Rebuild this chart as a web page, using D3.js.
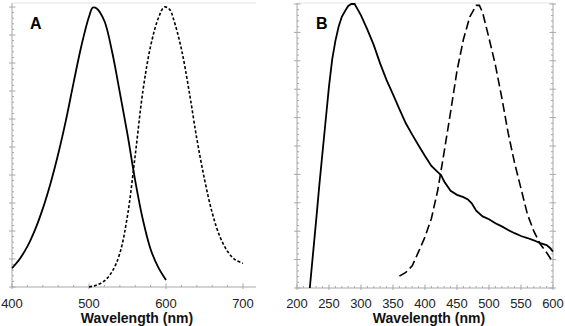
<!DOCTYPE html>
<html>
<head>
<meta charset="utf-8">
<script src="https://d3js.org/d3.v7.min.js"></script>
<style>
  body { margin: 0; background: #fff; }
  text { font-family: "Liberation Sans", Arial, sans-serif; }
</style>
</head>
<body>
<svg width="565" height="326"></svg>
<script>
// panel A: absorption (solid) and emission (dashed)
var aSolidWl = [400, 410, 420, 430, 440, 450, 460, 470, 480, 490, 500, 505, 510, 520, 530, 540, 550, 560, 570, 580, 590, 600];
var aSolidVal = [0.67, 1.0, 1.45, 2.05, 2.8, 3.7, 4.75, 5.95, 7.3, 8.6, 9.65, 9.98, 9.95, 9.5, 8.4, 6.95, 5.45, 3.8, 2.4, 1.35, 0.7, 0.25];
var aDashWl = [500, 510, 520, 530, 540, 550, 560, 570, 580, 590, 598, 605, 610, 620, 630, 640, 650, 660, 670, 680, 690, 700];
var aDashVal = [0, 0.07, 0.22, 0.55, 1.2, 2.55, 4.7, 7.0, 8.6, 9.6, 10, 9.9, 9.55, 8.5, 7.0, 5.3, 3.85, 2.65, 1.8, 1.27, 0.97, 0.85];

// panel B
var bSolidWl = [220, 225, 230, 235, 240, 245, 250, 255, 260, 265, 270, 275, 280, 285, 290, 295, 300, 310, 320, 330, 340, 350, 360, 370, 380, 390, 400, 410, 420, 425, 430, 440, 450, 460, 467, 473, 480, 490, 500, 510, 520, 530, 540, 550, 560, 570, 580, 590, 595, 600];
var bSolidVal = [0, 1.2, 2.4, 3.65, 4.8, 5.95, 7.1, 8.05, 8.7, 9.2, 9.55, 9.75, 9.93, 10, 10, 9.8, 9.6, 9.1, 8.55, 7.9, 7.32, 6.82, 6.3, 5.8, 5.4, 5.02, 4.65, 4.3, 4.08, 3.98, 3.75, 3.42, 3.28, 3.2, 3.12, 2.98, 2.72, 2.52, 2.42, 2.28, 2.17, 2.04, 1.93, 1.83, 1.76, 1.68, 1.58, 1.51, 1.42, 1.28];
var bDashWl = [360, 370, 380, 390, 400, 410, 420, 430, 440, 450, 460, 470, 480, 485, 490, 500, 510, 520, 530, 540, 550, 560, 570, 580, 590, 600];
var bDashVal = [0.42, 0.55, 0.78, 1.28, 1.8, 2.45, 3.45, 4.8, 6.2, 7.65, 8.75, 9.55, 9.95, 9.95, 9.7, 8.8, 7.85, 6.7, 5.45, 4.4, 3.5, 2.6, 2.0, 1.55, 1.25, 0.9];

var aTicks = [400, 500, 600, 700];
var bTicks = [200, 250, 300, 350, 400, 450, 500, 550, 600];

var svg = d3.select("svg");
var axisColor = "#a8a8a8";

function zip(wl, val) {
    return wl.map(function(w, i) { return { wl: w, v: val[i] }; });
}

function drawPanel(opt) {
    var x = d3.scaleLinear().domain(opt.xDomain).range([opt.left, opt.right]);
    var y = d3.scaleLinear().domain([0, 10]).range([opt.bottom, opt.top]);
    var g = svg.append("g");

    // frame
    g.append("line").attr("x1", opt.left).attr("x2", opt.left)
        .attr("y1", opt.bottom).attr("y2", opt.frameTop)
        .attr("stroke", axisColor);
    g.append("line").attr("x1", opt.left).attr("x2", opt.frameRight)
        .attr("y1", opt.bottom).attr("y2", opt.bottom)
        .attr("stroke", axisColor);
    g.append("line").attr("x1", opt.left).attr("x2", opt.frameRight)
        .attr("y1", opt.frameTop).attr("y2", opt.frameTop)
        .attr("stroke", "#e4e4e4");
    if (opt.rightAxis) {
        g.append("line").attr("x1", opt.right).attr("x2", opt.right)
            .attr("y1", opt.bottom).attr("y2", opt.frameTop)
            .attr("stroke", axisColor);
    }

    // y ticks
    var yMinor = d3.range(0, 10.01, 0.2);
    yMinor.forEach(function(v) {
        var major = Math.abs(v - Math.round(v)) < 1e-6;
        var len = major ? 3.5 : 2;
        g.append("line").attr("x1", opt.left - (major ? 3 : 0)).attr("x2", opt.left + len)
            .attr("y1", y(v)).attr("y2", y(v)).attr("stroke", axisColor);
        if (opt.rightAxis) {
            g.append("line").attr("x1", opt.right - len).attr("x2", opt.right + (major ? 3 : 0))
                .attr("y1", y(v)).attr("y2", y(v)).attr("stroke", axisColor);
        }
    });

    // x ticks
    d3.range(opt.xDomain[0], opt.xDomain[1] + 0.01, opt.minorStep).forEach(function(v) {
        var major = opt.ticks.indexOf(v) >= 0;
        g.append("line").attr("x1", x(v)).attr("x2", x(v))
            .attr("y1", opt.bottom + (major ? 2 : 0)).attr("y2", opt.bottom - (major ? 3.5 : 2))
            .attr("stroke", axisColor);
    });

    g.selectAll(".tl").data(opt.ticks).enter().append("text")
        .attr("x", function(d) { return x(d); })
        .attr("y", 307.5)
        .attr("text-anchor", "middle")
        .attr("font-size", "13px")
        .attr("fill", "#222")
        .text(function(d) { return d; });

    g.append("text")
        .attr("x", opt.titleX).attr("y", 323)
        .attr("text-anchor", "middle")
        .attr("font-size", "14px")
        .attr("font-weight", "bold")
        .attr("fill", "#111")
        .text("Wavelength (nm)");

    g.append("text")
        .attr("x", opt.letterX).attr("y", 28.5)
        .attr("font-size", "16px")
        .attr("font-weight", "bold")
        .text(opt.letter);

    var line = d3.line()
        .x(function(d) { return x(d.wl); })
        .y(function(d) { return y(d.v); })
        .curve(opt.curve);

    g.append("path").datum(zip(opt.solidWl, opt.solidVal))
        .attr("d", line).attr("fill", "none")
        .attr("stroke", "#000").attr("stroke-width", 1.8);
    g.append("path").datum(zip(opt.dashWl, opt.dashVal))
        .attr("d", line).attr("fill", "none")
        .attr("stroke", "#000").attr("stroke-width", opt.dashWidth)
        .attr("stroke-dasharray", opt.dash);
}

drawPanel({
    xDomain: [400, 700], left: 12, right: 243, frameRight: 256,
    top: 7, bottom: 287, frameTop: 3, rightAxis: false,
    ticks: aTicks, minorStep: 20, titleX: 137, letterX: 30, letter: "A",
    solidWl: aSolidWl, solidVal: aSolidVal, dashWl: aDashWl, dashVal: aDashVal,
    curve: d3.curveCatmullRom, dash: "3,2", dashWidth: 1.6
});

drawPanel({
    xDomain: [200, 600], left: 297, right: 553, frameRight: 553,
    top: 4, bottom: 288, frameTop: 3, rightAxis: true,
    ticks: bTicks, minorStep: 10, titleX: 429, letterX: 316, letter: "B",
    solidWl: bSolidWl, solidVal: bSolidVal, dashWl: bDashWl, dashVal: bDashVal,
    curve: d3.curveLinear, dash: "9,4", dashWidth: 1.6
});
</script>
</body>
</html>
